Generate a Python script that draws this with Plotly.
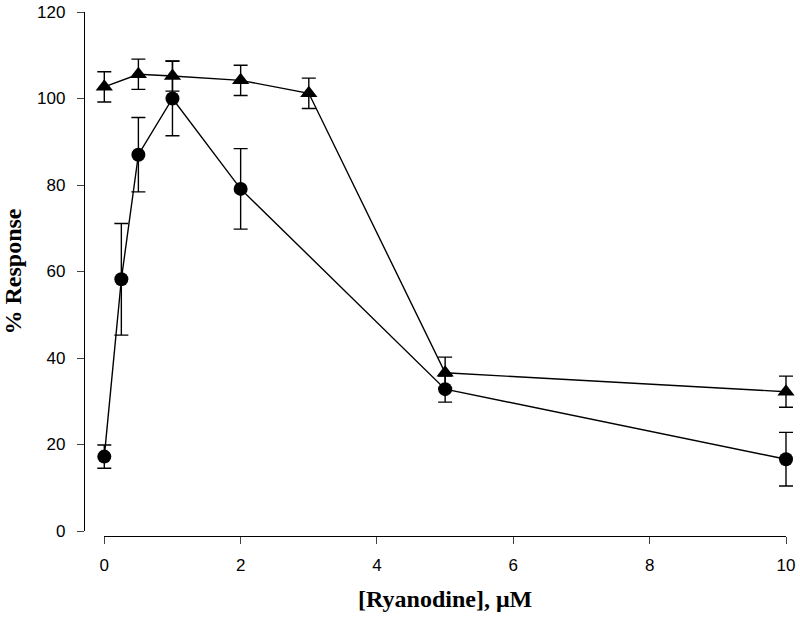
import plotly.graph_objects as go

# Data
conc_circle = [0, 0.25, 0.5, 1, 2, 5, 10]
resp_circle = [17.2, 58.2, 87.0, 100.0, 79.1, 32.8, 16.6]
err_circle = [2.7, 12.9, 8.6, 8.6, 9.3, 3.0, 6.2]

conc_tri = [0, 0.5, 1, 2, 3, 5, 10]
resp_tri = [102.7, 105.6, 105.2, 104.2, 101.2, 36.6, 32.2]
err_tri = [3.5, 3.5, 3.5, 3.5, 3.5, 3.6, 3.6]

x_ticks = [0, 2, 4, 6, 8, 10]
y_ticks = [0, 20, 40, 60, 80, 100, 120]

FIG_W, FIG_H = 800, 622
L, R, T, B = 50, 0, 5, 70
W, H = FIG_W - L - R, FIG_H - T - B

X0_PX, X10_PX = 104.3, 786.0   # pixel positions of x=0 and x=10
PX_PER_UNIT = (X10_PX - X0_PX) / 10.0
PAD = 0.2


def fx(px):
    return (px - L) / W


def fy(py):
    return (FIG_H - B - py) / H


fig = go.Figure()

err_style = dict(type="data", thickness=1.4, width=7, color="black")

fig.add_trace(go.Scatter(
    x=conc_tri, y=resp_tri, mode="lines+markers",
    error_y=dict(array=err_tri, **err_style),
    line=dict(color="black", width=1.4),
    marker=dict(symbol="triangle-up", size=15, color="black"),
    cliponaxis=False, showlegend=False,
))
fig.add_trace(go.Scatter(
    x=conc_circle, y=resp_circle, mode="lines+markers",
    error_y=dict(array=err_circle, **err_style),
    line=dict(color="black", width=1.4),
    marker=dict(symbol="circle", size=14, color="black"),
    cliponaxis=False, showlegend=False,
))
# invisible trace that carries the visible x axis (spanning exactly 0..10)
fig.add_trace(go.Scatter(
    x=[x_ticks[0], x_ticks[-1]], y=[None, None], xaxis="x2", yaxis="y",
    mode="markers", marker=dict(opacity=0), showlegend=False, hoverinfo="skip",
))

title_font = dict(family="Liberation Serif, Times New Roman", size=24, color="black")

fig.update_layout(
    width=FIG_W, height=FIG_H,
    margin=dict(l=L, r=R, t=T, b=B, autoexpand=False),
    paper_bgcolor="white", plot_bgcolor="rgba(0,0,0,0)",
    font=dict(family="Liberation Sans, Arial", size=17, color="black"),
    xaxis=dict(
        range=[-PAD, 10 + PAD],
        domain=[fx(X0_PX - PAD * PX_PER_UNIT), min(1.0, fx(X10_PX + PAD * PX_PER_UNIT))],
        anchor="y", visible=False, automargin=False,
        showgrid=False, zeroline=False,
    ),
    xaxis2=dict(
        range=[0, 10], domain=[fx(X0_PX), fx(X10_PX)],
        anchor="free", position=fy(536), automargin=False,
        tickvals=x_ticks, ticks="outside", ticklen=7, tickwidth=1.4,
        showline=True, linecolor="black", linewidth=1.4,
        showgrid=False, zeroline=False, ticklabeloverflow="allow",
        tickfont=dict(size=17), ticklabelstandoff=6,
        title=dict(text="<b>[Ryanodine], μM</b>", font=title_font, standoff=16),
    ),
    yaxis=dict(
        range=[0, 120], domain=[fy(531), fy(12)],
        anchor="free", position=fx(84), automargin=False,
        tickvals=y_ticks, ticks="outside", ticklen=7, tickwidth=1.4,
        showline=True, linecolor="black", linewidth=1.4,
        showgrid=False, zeroline=False, ticklabeloverflow="allow",
        tickfont=dict(size=17), ticklabelstandoff=8,
        title=dict(text="<b>% Response</b>", font=title_font, standoff=17),
    ),
)

fig.write_html(
    "out.html",
    config={"displayModeBar": False},
    post_script="document.body.style.margin='0';document.body.style.overflow='hidden';",
)
